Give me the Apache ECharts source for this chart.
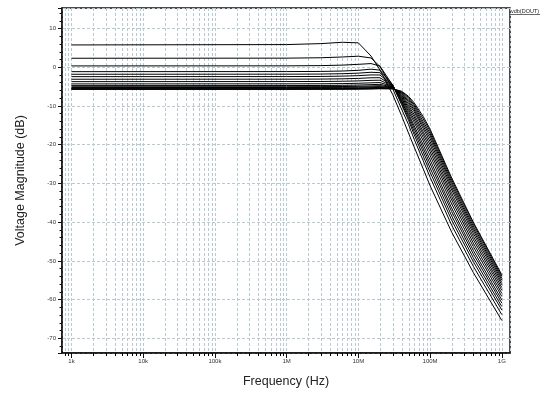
<!DOCTYPE html>
<html>
<head>
<meta charset="utf-8">
<script src="https://cdn.jsdelivr.net/npm/echarts@6/dist/echarts.min.js"></script>
<style>
html, body { margin: 0; padding: 0; background: #fff; }
#main { width: 541px; height: 394px; }
</style>
</head>
<body>
<div id="main"></div>
<script>
// frequency points (Hz) shared by every trace
var freqs = [1e3, 1e6, 3e6, 6e6, 1e7, 1.5e7, 2e7, 3e7, 4e7, 5e7, 6e7, 8e7, 1e8, 2e8, 4e8, 1e9];

// vdb(DOUT) for each step of the sweep (dB)
var curve01 = [5.76, 5.85, 6.10, 6.45, 6.30, 2.90, -0.70, -7.00, -12.5, -17.0, -20.6, -26.2, -30.6, -42.6, -53.0, -65.4];
var curve02 = [2.32, 2.35, 2.45, 2.65, 2.85, 2.40, 0.20, -5.50, -10.8, -14.8, -18.6, -24.1, -28.4, -40.8, -51.4, -63.9];
var curve03 = [0.34, 0.36, 0.42, 0.55, 0.75, 0.95, 0.30, -4.60, -9.60, -13.7, -17.4, -22.9, -27.1, -39.5, -50.2, -62.7];
var curve04 = [-1.14, -1.12, -1.08, -0.98, -0.80, -0.50, -0.75, -4.50, -9.30, -13.1, -16.6, -21.8, -26.0, -38.4, -49.2, -61.8];
var curve05 = [-1.81, -1.79, -1.76, -1.67, -1.52, -1.30, -1.40, -4.60, -8.90, -12.5, -15.8, -20.9, -24.9, -37.3, -48.2, -60.9];
var curve06 = [-2.43, -2.41, -2.38, -2.30, -2.17, -1.98, -2.00, -4.70, -8.60, -12.0, -15.1, -20.0, -23.9, -36.4, -47.3, -60.1];
var curve07 = [-3.10, -3.08, -3.06, -2.99, -2.88, -2.72, -2.70, -4.80, -8.30, -11.4, -14.2, -19.0, -22.8, -35.3, -46.3, -59.2];
var curve08 = [-3.72, -3.70, -3.68, -3.62, -3.53, -3.39, -3.35, -4.90, -8.00, -10.9, -13.5, -18.1, -21.8, -34.3, -45.4, -58.4];
var curve09 = [-4.31, -4.29, -4.27, -4.22, -4.14, -4.02, -3.95, -5.00, -7.70, -10.4, -12.8, -17.3, -20.9, -33.4, -44.5, -57.6];
var curve10 = [-4.75, -4.73, -4.71, -4.67, -4.60, -4.49, -4.42, -5.10, -7.40, -9.90, -12.2, -16.6, -20.0, -32.6, -43.7, -56.9];
var curve11 = [-5.05, -5.03, -5.01, -4.98, -4.92, -4.83, -4.76, -5.20, -7.20, -9.40, -11.5, -15.8, -19.2, -31.7, -42.9, -56.2];
var curve12 = [-5.25, -5.23, -5.22, -5.19, -5.14, -5.06, -5.00, -5.30, -6.90, -8.95, -11.0, -15.2, -18.4, -31.0, -42.2, -55.6];
var curve13 = [-5.42, -5.41, -5.40, -5.37, -5.33, -5.27, -5.22, -5.40, -6.70, -8.55, -10.5, -14.6, -17.7, -30.3, -41.6, -55.0];
var curve14 = [-5.55, -5.54, -5.53, -5.51, -5.48, -5.43, -5.39, -5.45, -6.50, -8.15, -10.0, -14.0, -17.1, -29.7, -41.0, -54.5];
var curve15 = [-5.65, -5.64, -5.63, -5.62, -5.60, -5.56, -5.50, -5.52, -6.35, -7.80, -9.60, -13.3, -16.5, -29.1, -40.4, -54.0];
var curve16 = [-5.72, -5.72, -5.70, -5.68, -5.65, -5.60, -5.55, -5.60, -6.20, -7.50, -9.20, -12.7, -16.0, -28.6, -40.0, -53.6];

var curves = [curve01, curve02, curve03, curve04, curve05, curve06, curve07, curve08,
              curve09, curve10, curve11, curve12, curve13, curve14, curve15, curve16];

var xTickValues = [1e3, 1e4, 1e5, 1e6, 1e7, 1e8, 1e9];
var xTickLabels = ['1k', '10k', '100k', '1M', '10M', '100M', '1G'];
var traceName = 'vdb(DOUT)';

var xMin = 738, xMax = 1.3e9;
var yMin = -73.8, yMax = 15.3;

// 2..9 x decade positions for the minor grid / ticks
var minorFreqs = [];
for (var e = 2; e <= 9; e++) {
    for (var m = 2; m <= 9; m++) {
        var f = m * Math.pow(10, e);
        if (f > xMin && f < xMax) minorFreqs.push([f, 0]);
    }
}

var gridColor = '#b7c9d1';
var myChart = echarts.init(document.getElementById('main'));

var series = curves.map(function (c, k) {
    return {
        name: traceName + k,
        type: 'line',
        data: freqs.map(function (f, i) { return [f, c[i]]; }),
        showSymbol: false,
        lineStyle: { color: '#000', width: 1 },
        z: 3
    };
});

// minor vertical grid and ticks on the bottom axis
series.push({
    type: 'custom',
    silent: true,
    clip: false,
    z: 1,
    data: minorFreqs,
    encode: { x: 0, y: 1 },
    renderItem: function (params, api) {
        var f = api.value(0);
        var top = api.coord([f, yMax]);
        var bot = api.coord([f, yMin]);
        var x = Math.round(top[0]) + 0.5;
        return {
            type: 'group',
            children: [{
                type: 'line',
                shape: { x1: x, y1: top[1], x2: x, y2: bot[1] },
                style: { stroke: gridColor, lineWidth: 1, lineDash: [3, 2] }
            }, {
                type: 'line',
                shape: { x1: x, y1: bot[1], x2: x, y2: bot[1] + 3 },
                style: { stroke: '#000', lineWidth: 1 }
            }]
        };
    }
});

option = {
    animation: false,
    backgroundColor: '#fff',
    grid: {
        left: 62, right: 31, top: 8, bottom: 41,
        show: true, borderColor: '#111', borderWidth: 1.5, backgroundColor: 'transparent'
    },
    graphic: [{
        type: 'text', left: 511, top: 8, z: 10,
        style: { text: traceName, font: '5.5px "Liberation Sans", Arial, sans-serif', fill: '#222' }
    }, {
        type: 'line', z: 10,
        shape: { x1: 510, y1: 14.5, x2: 540, y2: 14.5 },
        style: { stroke: '#444', lineWidth: 0.8 }
    }],
    xAxis: {
        type: 'log',
        logBase: 10,
        min: xMin,
        max: xMax,
        name: 'Frequency (Hz)',
        nameLocation: 'middle',
        nameGap: 22,
        nameTextStyle: { fontSize: 12.5, color: '#222', fontFamily: 'Liberation Sans' },
        axisLine: { show: true, onZero: false, lineStyle: { color: '#111', width: 1.5 } },
        axisTick: { show: true, length: 5, lineStyle: { color: '#111' } },
        minorTick: { show: false },
        axisLabel: {
            fontSize: 6, color: '#333', margin: 5, fontFamily: 'Liberation Sans',
            showMinLabel: false, showMaxLabel: false,
            formatter: function (v) {
                for (var i = 0; i < xTickValues.length; i++) {
                    if (Math.abs(Math.log10(v) - Math.log10(xTickValues[i])) < 0.01) return xTickLabels[i];
                }
                return '';
            }
        },
        splitLine: { show: true, lineStyle: { color: gridColor, type: [3, 2], width: 1 } }
    },
    yAxis: {
        type: 'value',
        min: yMin,
        max: yMax,
        splitNumber: 9,
        name: 'Voltage Magnitude (dB)',
        nameLocation: 'middle',
        nameGap: 35,
        nameTextStyle: { fontSize: 12.5, color: '#222', fontFamily: 'Liberation Sans' },
        axisLine: { show: true, onZero: false, lineStyle: { color: '#111', width: 1.5 } },
        axisTick: { show: true, length: 4, lineStyle: { color: '#111' } },
        minorTick: { show: true, splitNumber: 5, length: 2.5, lineStyle: { color: '#111' } },
        axisLabel: {
            fontSize: 6, color: '#333', margin: 6, fontFamily: 'Liberation Sans',
            showMinLabel: false, showMaxLabel: false
        },
        splitLine: { show: true, lineStyle: { color: gridColor, type: [3, 2], width: 1 } }
    },
    series: series
};

myChart.setOption(option);
</script>
</body>
</html>
